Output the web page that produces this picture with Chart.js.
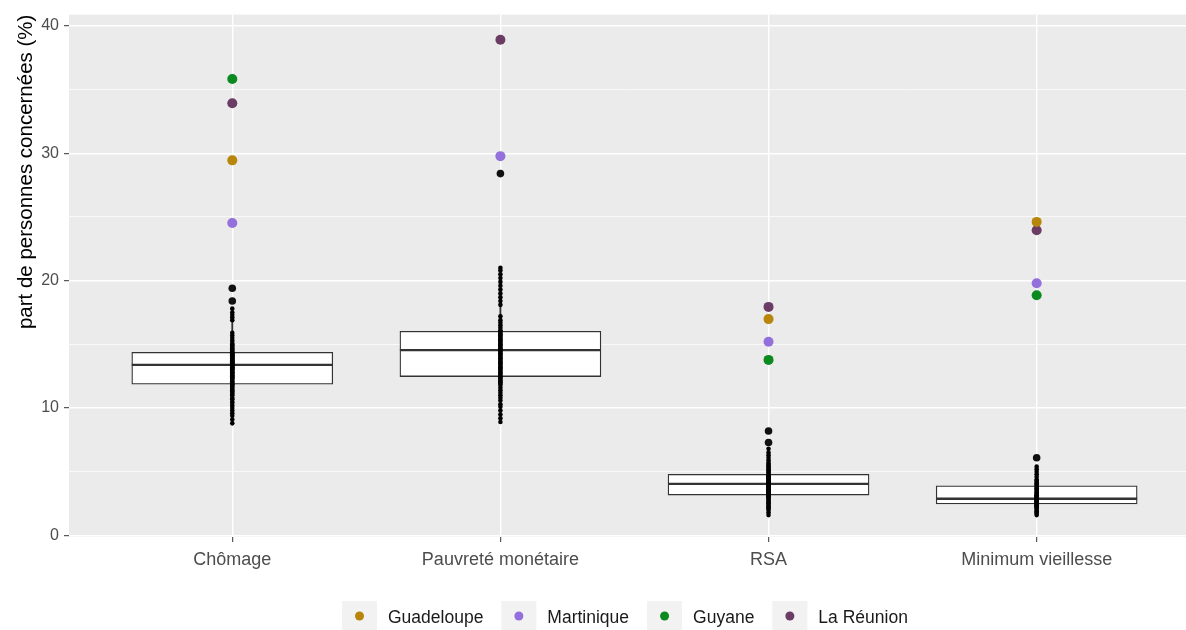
<!DOCTYPE html>
<html>
<head>
<meta charset="utf-8">
<script src="https://cdn.jsdelivr.net/npm/chart.js@4.4.1/dist/chart.umd.min.js"></script>
<style>
html,body{margin:0;padding:0;background:#ffffff;}
canvas{display:block;}
</style>
</head>
<body>
<canvas id="c" width="1186" height="630"></canvas>
<script>
// ---------- DATA ----------
const categories = ['Chômage', 'Pauvreté monétaire', 'RSA', 'Minimum vieillesse'];
const yTickValues = [0, 5, 10, 15, 20, 25, 30, 35, 40];

// Box statistics per category
const q1 = [11.87, 12.47, 3.17, 2.47];
const median = [13.39, 14.55, 4.05, 2.88];
const q3 = [14.37, 16.03, 4.80, 3.90];
const whiskerLow = [8.8, 8.9, 1.6, 1.6];
const whiskerHigh = [17.8, 21.0, 6.8, 5.4];

// Metropolitan departments (black points)
const chomage = [8.8, 9.1, 9.4, 9.6, 9.8, 10.0, 10.2, 10.4, 10.5, 10.7, 10.8, 11.0, 11.1, 11.2, 11.3, 11.4,
  11.5, 11.6, 11.7, 11.8, 11.85, 11.9, 12.0, 12.1, 12.2, 12.3, 12.35, 12.4, 12.5, 12.55, 12.6, 12.7, 12.75,
  12.8, 12.85, 12.9, 13.0, 13.05, 13.1, 13.15, 13.2, 13.25, 13.3, 13.35, 13.4, 13.45, 13.5, 13.55, 13.6,
  13.65, 13.7, 13.75, 13.8, 13.85, 13.9, 13.95, 14.0, 14.05, 14.1, 14.15, 14.2, 14.25, 14.3, 14.35, 14.4,
  14.5, 14.6, 14.7, 14.8, 14.9, 15.0, 15.1, 15.3, 15.5, 15.7, 15.9, 16.9, 17.1, 17.3, 17.5, 17.8, 18.4, 19.4];
const pauvrete = [8.9, 9.2, 9.5, 9.8, 10.1, 10.3, 10.6, 10.8, 11.0, 11.2, 11.4, 11.6, 11.8, 11.9, 12.0, 12.1,
  12.2, 12.3, 12.4, 12.5, 12.6, 12.7, 12.8, 12.9, 13.0, 13.1, 13.2, 13.3, 13.4, 13.5, 13.6, 13.7, 13.8, 13.9,
  14.0, 14.1, 14.2, 14.3, 14.4, 14.5, 14.55, 14.6, 14.7, 14.8, 14.9, 15.0, 15.1, 15.2, 15.3, 15.4, 15.5, 15.6,
  15.7, 15.8, 15.9, 16.0, 16.1, 16.3, 16.5, 16.7, 16.9, 17.2, 18.1, 18.4, 18.7, 19.0, 19.3, 19.6, 19.9, 20.2,
  20.5, 20.8, 21.0, 28.4];
const rsa = [1.6, 1.8, 2.0, 2.1, 2.2, 2.3, 2.4, 2.5, 2.6, 2.7, 2.8, 2.9, 3.0, 3.05, 3.1, 3.15, 3.2, 3.25, 3.3,
  3.35, 3.4, 3.45, 3.5, 3.55, 3.6, 3.65, 3.7, 3.75, 3.8, 3.85, 3.9, 3.95, 4.0, 4.05, 4.1, 4.15, 4.2, 4.25, 4.3,
  4.35, 4.4, 4.45, 4.5, 4.55, 4.6, 4.65, 4.7, 4.75, 4.8, 4.9, 5.0, 5.1, 5.2, 5.3, 5.4, 5.5, 5.6, 5.7, 5.9, 6.1,
  6.3, 6.5, 6.8, 7.3, 8.2];
const minimumVieillesse = [1.6, 1.7, 1.8, 1.9, 2.0, 2.1, 2.2, 2.25, 2.3, 2.35, 2.4, 2.45, 2.5, 2.55, 2.6, 2.65,
  2.7, 2.75, 2.8, 2.85, 2.9, 2.95, 3.0, 3.05, 3.1, 3.15, 3.2, 3.3, 3.4, 3.5, 3.6, 3.7, 3.8, 3.9, 4.0, 4.1, 4.2,
  4.3, 4.4, 4.6, 4.8, 5.0, 5.2, 5.4, 6.1];

// Box-plot outliers (larger black points)
const outliersChomage = [18.4, 19.4];
const outliersPauvrete = [28.4];
const outliersRsa = [7.3, 8.2];
const outliersMinimum = [6.1];

// Overseas regions
const regionLabels = ['Guadeloupe', 'Martinique', 'Guyane', 'La Réunion'];
const guadeloupe = [29.44, null, 16.98, 24.61];
const martinique = [24.53, 29.77, 15.21, 19.80];
const guyane = [35.82, null, 13.78, 18.86];
const reunion = [33.92, 38.90, 17.94, 23.96];

// ---------- BUILD ----------
const FONT = '"Liberation Sans", Arial, sans-serif';
const catIndex = categories.map((_, i) => i + 1);
const deptSeries = [chomage, pauvrete, rsa, minimumVieillesse];
const outlierSeries = [outliersChomage, outliersPauvrete, outliersRsa, outliersMinimum];
const regionSeries = [guadeloupe, martinique, guyane, reunion];
const regionColors = ['#B8860B', '#9370DB', '#0A8A1F', '#6B3D64'];

const boxData = catIndex.map((x, i) => ({ x, y: [q1[i], q3[i]] }));
const whiskerData = catIndex.map((x, i) => ({ x, y: [whiskerLow[i], whiskerHigh[i]] }));
const medianData = catIndex.map((x, i) => ({ x, y: median[i] }));
const deptData = deptSeries.flatMap((arr, i) => arr.map(v => ({ x: i + 1, y: v })));
const outlierData = outlierSeries.flatMap((arr, i) => arr.map(v => ({ x: i + 1, y: v })));

const regionDatasets = regionSeries.map((vals, k) => ({
  type: 'scatter',
  label: regionLabels[k],
  data: catIndex.map((x, i) => ({ x, y: vals[i] })),
  pointRadius: 5,
  pointHoverRadius: 5,
  pointBackgroundColor: regionColors[k],
  pointBorderWidth: 0,
  order: 1,
  isRegion: true
}));

const panelBg = {
  id: 'panelBg',
  beforeDraw(chart) {
    const { ctx, chartArea: a } = chart;
    ctx.save();
    ctx.fillStyle = '#EBEBEB';
    ctx.fillRect(a.left, a.top, a.right - a.left, a.bottom - a.top);
    ctx.restore();
  }
};

const ggLegend = {
  id: 'ggLegend',
  afterDraw(chart) {
    const ctx = chart.ctx;
    ctx.save();
    ctx.font = '17.5px ' + FONT;
    ctx.textBaseline = 'middle';
    ctx.textAlign = 'left';
    const keyW = 35, keyH = 29, keyTop = 601, cy = 616;
    let x = 342;
    chart.data.datasets.filter(d => d.isRegion).forEach(d => {
      ctx.fillStyle = '#F2F2F2';
      ctx.fillRect(x, keyTop, keyW, keyH);
      ctx.fillStyle = d.pointBackgroundColor;
      ctx.beginPath();
      ctx.arc(x + keyW / 2, cy, 4.5, 0, Math.PI * 2);
      ctx.fill();
      ctx.fillStyle = '#1A1A1A';
      ctx.fillText(d.label, x + keyW + 11, cy + 2);
      x += keyW + 11 + ctx.measureText(d.label).width + 18;
    });
    ctx.restore();
  }
};

new Chart(document.getElementById('c'), {
  type: 'scatter',
  data: {
    datasets: [
      {
        type: 'bar', label: 'whisker', data: whiskerData,
        backgroundColor: '#333333', borderWidth: 0, barThickness: 1.2,
        grouped: false, order: 10
      },
      {
        type: 'bar', label: 'box', data: boxData,
        backgroundColor: '#FFFFFF', borderColor: '#333333', borderWidth: 1.3,
        borderSkipped: false, barThickness: 201, grouped: false, order: 9
      },
      {
        type: 'scatter', label: 'median', data: medianData,
        pointStyle: 'line', pointRadius: 100.5, pointHoverRadius: 100.5,
        borderColor: '#333333', pointBorderColor: '#333333', pointBorderWidth: 2.4, order: 8
      },
      {
        type: 'scatter', label: 'départements', data: deptData,
        pointRadius: 2.3, pointHoverRadius: 2.3, pointBackgroundColor: '#000000',
        pointBorderWidth: 0, order: 7
      },
      {
        type: 'scatter', label: 'outliers', data: outlierData,
        pointRadius: 3.8, pointHoverRadius: 3.8, pointBackgroundColor: '#111111',
        pointBorderWidth: 0, order: 6
      },
      ...regionDatasets
    ]
  },
  options: {
    responsive: false,
    animation: false,
    events: [],
    layout: { autoPadding: false, padding: { top: 13, right: 0, bottom: 53, left: 0 } },
    plugins: { legend: { display: false }, tooltip: { enabled: false } },
    scales: {
      x: {
        type: 'linear',
        offset: false,
        min: 0.391,
        max: 4.557,
        afterBuildTicks: s => { s.ticks = catIndex.map(v => ({ value: v })); },
        afterFit: s => { s.height = 40; },
        ticks: {
          callback: v => categories[v - 1] ?? '',
          font: { family: FONT, size: 18 },
          color: '#4D4D4D',
          padding: 7,
          maxRotation: 0,
          autoSkip: false
        },
        grid: { offset: false, color: '#FFFFFF', lineWidth: 1.4, tickColor: '#333333', tickLength: 5, tickWidth: 1 },
        border: { display: false }
      },
      y: {
        type: 'linear',
        min: -0.12,
        max: 40.88,
        afterBuildTicks: s => { s.ticks = yTickValues.map(v => ({ value: v })); },
        afterFit: s => { s.width = 69; },
        ticks: {
          callback: v => (v % 10 === 0 ? String(v) : ''),
          font: { family: FONT, size: 16 },
          color: '#4D4D4D',
          padding: 5
        },
        grid: {
          color: '#FFFFFF',
          lineWidth: c => (c.tick && c.tick.value % 10 === 0 ? 1.4 : 0.7),
          tickColor: c => (c.tick && c.tick.value % 10 === 0 ? '#333333' : 'rgba(0,0,0,0)'),
          tickWidth: 1,
          tickLength: 5
        },
        border: { display: false },
        title: {
          display: true,
          text: 'part de personnes concernées (%)',
          align: 'end',
          color: '#000000',
          font: { family: FONT, size: 20.5 },
          padding: { top: 14, bottom: 0 }
        }
      }
    }
  },
  plugins: [panelBg, ggLegend]
});
</script>
</body>
</html>
